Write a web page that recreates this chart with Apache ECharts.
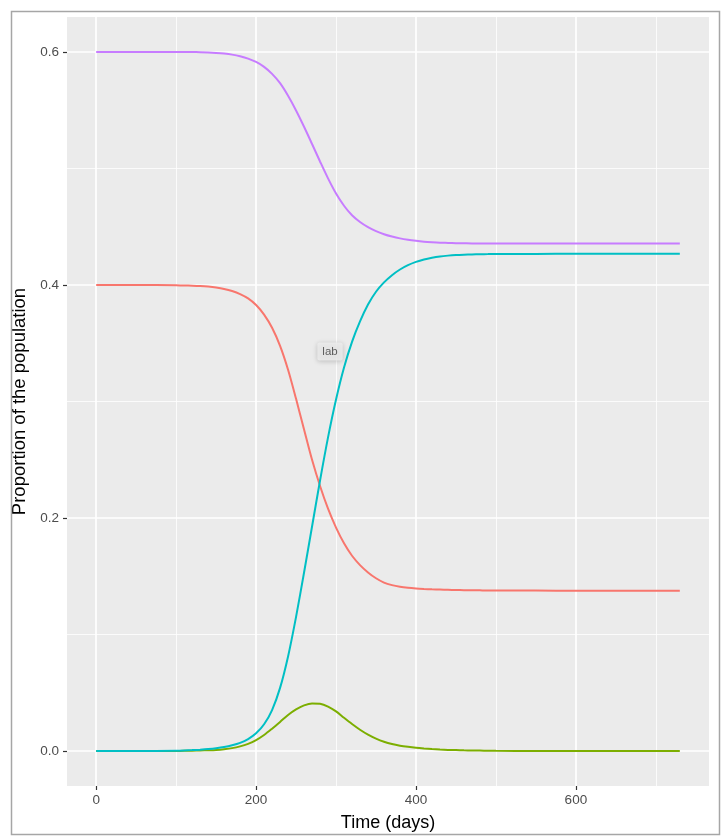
<!DOCTYPE html>
<html>
<head>
<meta charset="utf-8">
<script src="https://cdn.jsdelivr.net/npm/echarts@6/dist/echarts.min.js"></script>
<style>
html,body{margin:0;padding:0;background:#fff;}
#c{width:725px;height:840px;}
</style>
</head>
<body>
<div id="c"></div>
<script>
// time points (days)
const days = [0, 50,
  100, 110, 120, 130, 140, 150, 160, 170, 180, 190,
  200, 210, 220, 230, 240, 250, 260, 270, 280, 290,
  300, 310, 320, 330, 340, 350, 360, 370, 380, 390,
  400, 410, 420, 430, 440, 450, 460, 470, 480, 490,
  500, 550, 600, 650, 700, 730];

// red curve (starts at 0.4)
const redValues = [0.4000, 0.4000,
  0.3997, 0.3996, 0.3994, 0.3991, 0.3986, 0.3978, 0.3966, 0.3948, 0.3922, 0.3885,
  0.3828, 0.3746, 0.3633, 0.3478, 0.3273, 0.3023, 0.2760, 0.2500, 0.2275, 0.2080,
  0.1918, 0.1783, 0.1676, 0.1596, 0.1533, 0.1483, 0.1446, 0.1424, 0.1410, 0.1401,
  0.1395, 0.1391, 0.1388, 0.1386, 0.1384, 0.1382, 0.1381, 0.1380, 0.1379, 0.1378,
  0.1378, 0.1377, 0.1376, 0.1376, 0.1376, 0.1376];

// green curve (peak ~0.041)
const greenValues = [0, 0,
  0.0001, 0.0002, 0.0003, 0.0005, 0.0007, 0.0010, 0.0016, 0.0025, 0.0040, 0.0062,
  0.0094, 0.0138, 0.0192, 0.0250, 0.0310, 0.0358, 0.0392, 0.0409, 0.0406, 0.0382,
  0.0340, 0.0285, 0.0232, 0.0183, 0.0141, 0.0107, 0.0080, 0.0060, 0.0046, 0.0036,
  0.0028, 0.0022, 0.0017, 0.0013, 0.0010, 0.0008, 0.0006, 0.0005, 0.0004, 0.0003,
  0.0002, 0.0001, 0, 0, 0, 0];

// cyan curve (rises to ~0.427)
const cyanValues = [0, 0,
  0.0003, 0.0005, 0.0008, 0.0012, 0.0017, 0.0024, 0.0034, 0.0049, 0.0070, 0.0103,
  0.0152, 0.0230, 0.0352, 0.0542, 0.0812, 0.1152, 0.1532, 0.1927, 0.2322, 0.2692,
  0.3017, 0.3292, 0.3512, 0.3687, 0.3832, 0.3942, 0.4022, 0.4084, 0.4133, 0.4170,
  0.4198, 0.4219, 0.4234, 0.4245, 0.4252, 0.4257, 0.4260, 0.4262, 0.4264, 0.4265,
  0.4266, 0.4267, 0.4268, 0.4268, 0.4268, 0.4268];

// purple curve (starts at 0.6)
const purpleValues = [0.6000, 0.6000,
  0.6000, 0.6000, 0.5999, 0.5998, 0.5996, 0.5992, 0.5986, 0.5977, 0.5963, 0.5943,
  0.5914, 0.5872, 0.5812, 0.5732, 0.5624, 0.5498, 0.5358, 0.5210, 0.5060, 0.4915,
  0.4785, 0.4680, 0.4598, 0.4540, 0.4496, 0.4462, 0.4436, 0.4416, 0.4400, 0.4388,
  0.4379, 0.4372, 0.4367, 0.4363, 0.4361, 0.4359, 0.4358, 0.4357, 0.4357, 0.4356,
  0.4356, 0.4356, 0.4356, 0.4356, 0.4356, 0.4356];

// axes
const xTicks = [0, 200, 400, 600];
const xMinor = [100, 300, 500, 700];
const yTicks = [0, 0.2, 0.4, 0.6];
const yMinor = [0.1, 0.3, 0.5];
const xRange = [-36.5, 766.5];
const yRange = [-0.03, 0.63];

// annotation
const labelPoint = [292.5, 0.343];
const labelText = 'lab';

const xTitle = 'Time (days)';
const yTitle = 'Proportion of the population';

function pairs(vals) { return days.map((d, i) => [d, vals[i]]); }

const chart = echarts.init(document.getElementById('c'), null, { renderer: 'canvas' });

const gridLines = [];
xMinor.forEach(v => gridLines.push({ xAxis: v, lineStyle: { width: 0.8 } }));
yMinor.forEach(v => gridLines.push({ yAxis: v, lineStyle: { width: 0.8 } }));
xTicks.forEach(v => gridLines.push({ xAxis: v, lineStyle: { width: 1.7 } }));
yTicks.forEach(v => gridLines.push({ yAxis: v, lineStyle: { width: 1.7 } }));

function curve(name, vals, color, z) {
  return {
    name: name, type: 'line', data: pairs(vals), showSymbol: false, symbol: 'none',
    smooth: 0.3, z: z,
    lineStyle: { color: color, width: 2 }, itemStyle: { color: color },
    silent: true
  };
}

const option = {
  animation: false,
  backgroundColor: '#ffffff',
  textStyle: { fontFamily: '"Liberation Sans", Arial, sans-serif' },
  graphic: [{
    type: 'rect', left: 9, top: 9,
    shape: { width: 708, height: 823 },
    style: { fill: 'none', stroke: '#a6a6a6', lineWidth: 1.5 },
    silent: true, z: 100
  }],
  grid: {
    left: 67, right: 16, top: 17, bottom: 54,
    show: true, backgroundColor: '#EBEBEB', borderWidth: 0
  },
  xAxis: {
    type: 'value', min: xRange[0], max: xRange[1],
    name: xTitle, nameLocation: 'middle', nameGap: 28,
    nameTextStyle: { fontSize: 18, color: '#000' },
    axisLine: { show: true, onZero: false, lineStyle: { color: 'rgba(0,0,0,0)', width: 0 } },
    axisTick: { show: true, customValues: xTicks, length: 4, lineStyle: { color: '#333333', width: 1.2 } },
    axisLabel: { customValues: xTicks, color: '#4D4D4D', fontSize: 13.5, margin: 7 },
    splitLine: { show: false }
  },
  yAxis: {
    type: 'value', min: yRange[0], max: yRange[1],
    name: yTitle, nameLocation: 'middle', nameGap: 35,
    nameTextStyle: { fontSize: 18.5, color: '#000' },
    axisLine: { show: true, onZero: false, lineStyle: { color: 'rgba(0,0,0,0)', width: 0 } },
    axisTick: { show: true, customValues: yTicks, length: 4, lineStyle: { color: '#333333', width: 1.2 } },
    axisLabel: { customValues: yTicks, color: '#4D4D4D', fontSize: 13.5, margin: 8,
      formatter: v => v.toFixed(1) },
    splitLine: { show: false }
  },
  series: [
    {
      name: 'grid', type: 'line', data: [[0, 0]], symbol: 'none', showSymbol: false,
      lineStyle: { opacity: 0 }, z: 1, silent: true,
      markLine: {
        z: 1, silent: true, symbol: ['none', 'none'], label: { show: false },
        lineStyle: { color: '#ffffff', type: 'solid' },
        emphasis: { disabled: true },
        data: gridLines
      }
    },
    curve('red', redValues, '#F8766D', 13),
    curve('green', greenValues, '#7CAE00', 14),
    curve('cyan', cyanValues, '#00BFC4', 15),
    curve('purple', purpleValues, '#C77CFF', 16),
    {
      name: 'annotation', type: 'scatter', data: [labelPoint], symbolSize: 0, z: 20, silent: true,
      label: {
        show: true, position: 'inside', formatter: labelText,
        color: '#3a3a3a', fontSize: 11.5,
        backgroundColor: '#eeeeee', padding: [3, 5, 3, 5], borderRadius: 2,
        shadowBlur: 5, shadowColor: 'rgba(0,0,0,0.25)', shadowOffsetX: 0, shadowOffsetY: 1
      }
    }
  ]
};
chart.setOption(option);
</script>
</body>
</html>
